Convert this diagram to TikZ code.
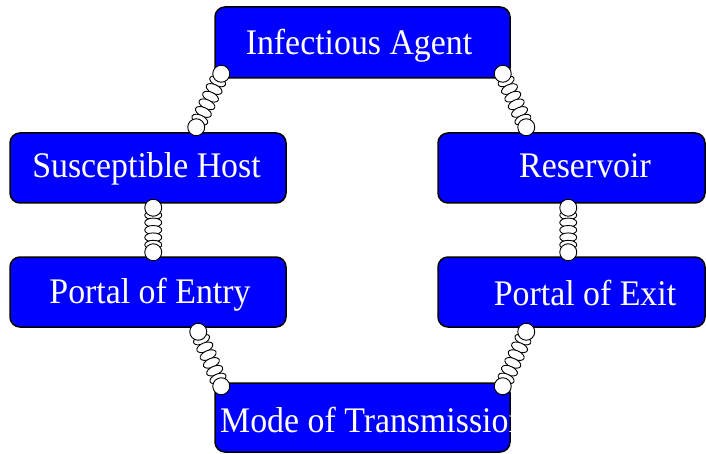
\documentclass[tikz,border=0pt]{standalone}
\usepackage{fontspec}
\setmainfont{Liberation Serif}
\usetikzlibrary{shapes.geometric,calc}
\tikzset{
  box/.style={rectangle, draw=black, fill=blue, line width=1.5pt, rounded corners=10pt, inner sep=0pt},
  lbl/.style={text=white, inner sep=0pt, font=\fontsize{36}{40}\selectfont, anchor=base},
  linkel/.style={ellipse, draw=black, fill=white, line width=0.9pt, minimum width=9pt, minimum height=17pt, inner sep=0pt},
  endcap/.style={circle, draw=black, fill=white, line width=0.9pt, minimum size=17pt, inner sep=0pt},
}
\newcommand\lbltext[1]{\scalebox{0.94}[1]{#1}}
% #1 from, #2 to, #3 number of links, #4 name prefix
\newcommand\mychain[4]{%
  \path (#1) -- (#2) foreach \k [evaluate=\k as \t using \k/(#3+1)] in {1,...,#3} {node[linkel, sloped, pos=\t] (#4\k) {}};
  \node[endcap] (#4a) at (#1) {};
  \node[endcap] (#4b) at (#2) {};
}
\begin{document}
\begin{tikzpicture}[x=1pt, y=-1pt]
\useasboundingbox (0,0) rectangle (706,454);
% boxes
\node[box, minimum width=295pt, minimum height=71pt] (agent) at (362.5,42.5) {};
\node[box, minimum width=276pt, minimum height=70pt] (host) at (148,168) {};
\node[box, minimum width=276pt, minimum height=70pt] (entry) at (148,292) {};
\node[box, minimum width=267pt, minimum height=70pt] (reservoir) at (571.5,168) {};
\node[box, minimum width=267pt, minimum height=70pt] (exit) at (571.5,292) {};
\node[box, minimum width=295pt, minimum height=69pt] (mode) at (362.5,417.5) {};
% labels
\node[lbl] (tagent) at (359,55) {\lbltext{Infectious Agent}};
\node[lbl] (thost) at (146.5,178) {\lbltext{Susceptible Host}};
\node[lbl] (tentry) at (150,303) {\lbltext{Portal of Entry}};
\node[lbl] (treservoir) at (585,178) {\lbltext{Reservoir}};
\node[lbl] (texit) at (585,305) {\lbltext{Portal of Exit}};
\begin{scope}
  \clip[rounded corners=10pt] (mode.north west) rectangle (mode.south east);
  \node[lbl, anchor=base west] (tmode) at (220,432) {\lbltext{Mode of Transmission}};
\end{scope}
% chain end points
\coordinate (c1s) at ($(agent.south west)+(7,-5)$);
\coordinate (c1e) at ($(host.north west)+(187,-5)$);
\coordinate (c2s) at ($(agent.south east)+(-8,-5)$);
\coordinate (c2e) at ($(reservoir.north west)+(89,-5)$);
\coordinate (c3s) at ($(host.south west)+(144,4)$);
\coordinate (c3e) at ($(entry.north west)+(144,-4)$);
\coordinate (c4s) at ($(reservoir.south west)+(131,4)$);
\coordinate (c4e) at ($(exit.north west)+(131,-4)$);
\coordinate (c5s) at ($(entry.south west)+(189,4)$);
\coordinate (c5e) at ($(mode.north west)+(7,4)$);
\coordinate (c6s) at ($(exit.south west)+(89,4)$);
\coordinate (c6e) at ($(mode.north east)+(-8,4)$);
% chains
\mychain{c1s}{c1e}{6}{ch1}
\mychain{c2s}{c2e}{6}{ch2}
\mychain{c3s}{c3e}{5}{ch3}
\mychain{c4s}{c4e}{5}{ch4}
\mychain{c5s}{c5e}{6}{ch5}
\mychain{c6s}{c6e}{6}{ch6}
\end{tikzpicture}
\end{document}
